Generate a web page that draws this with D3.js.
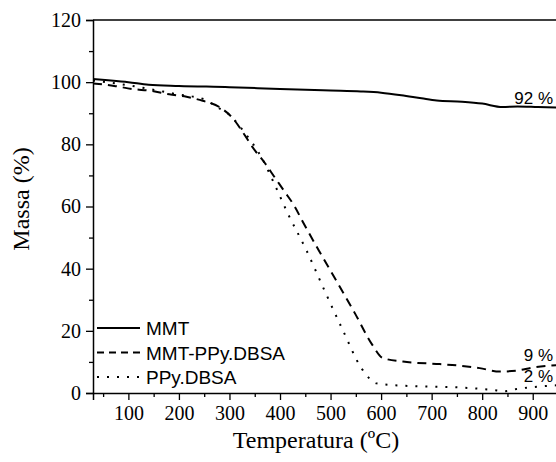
<!DOCTYPE html>
<html lang="en">
<head>
<meta charset="utf-8">
<title>TGA</title>
<script src="https://cdn.jsdelivr.net/npm/d3@7"></script>
<style>
  body { margin: 0; background: #fff; }
  svg { display: block; }
</style>
</head>
<body>
<script>
// temperature (ºC) and mass (%)
var mmtT   = [30, 60, 100, 140, 200, 300, 400, 500, 560, 600, 640, 680, 710, 760, 800, 840, 870, 910, 950];
var mmtM   = [101, 100.6, 100, 99.2, 98.8, 98.4, 97.8, 97.3, 97, 96.6, 95.8, 94.8, 94.1, 93.7, 93.1, 92, 92.2, 92, 91.8];

var compT  = [30, 72, 108, 145, 181, 215, 247, 280, 306, 330, 346, 370, 389, 409, 429, 445, 478, 514, 548, 583, 603, 643, 716, 755, 795, 835, 868, 900, 950];
var compM  = [99.6, 98.8, 97.8, 97.2, 96.1, 95.3, 94, 92, 88.5, 83, 79, 74, 69.5, 64.8, 60, 55.1, 45.5, 35.4, 25.7, 15.4, 11.3, 10.1, 9.3, 8.8, 8, 6.9, 7.2, 8.2, 9];

var ppyT   = [30, 100, 200, 250, 274, 300, 326, 366, 389, 415, 452, 488, 524, 561, 580, 591, 656, 755, 821, 845, 868, 908, 950];
var ppyM   = [100.5, 99, 96, 94.5, 92.1, 89.5, 84.6, 75, 67.2, 57.9, 46, 33, 20.3, 8, 4.2, 3.1, 2.25, 1.8, 1, 0.6, 1.3, 2, 2.5];

var seriesNames = ["MMT", "MMT-PPy.DBSA", "PPy.DBSA"];
var xTicks = [100, 200, 300, 400, 500, 600, 700, 800, 900];
var yTicks = [0, 20, 40, 60, 80, 100, 120];
var endLabels = [{m: 92, text: "92 %", dy: -3}, {m: 9, text: "9 %", dy: -4}, {m: 2, text: "2 %", dy: -5}];

var W = 556, H = 462;
var plotL = 93, plotT = 20, plotB = 393, plotR = 558;

var svg = d3.select("body").append("svg")
  .attr("width", W)
  .attr("height", H);

var x = d3.scaleLinear().domain([30, 950]).range([plotL, plotR]);
var y = d3.scaleLinear().domain([0, 120]).range([plotB, plotT]);

// frame top line
svg.append("line")
  .attr("x1", plotL).attr("x2", plotR)
  .attr("y1", plotT).attr("y2", plotT)
  .attr("stroke", "#000").attr("stroke-width", 1.5);

// minor ticks first
var xMinor = svg.append("g").attr("transform", "translate(0," + plotB + ")")
  .call(d3.axisBottom(x).tickValues([50, 150, 250, 350, 450, 550, 650, 750, 850]).tickSize(4).tickFormat(""));
var yMinor = svg.append("g").attr("transform", "translate(" + plotL + ",0)")
  .call(d3.axisLeft(y).tickValues([10, 30, 50, 70, 90, 110]).tickSize(4).tickFormat(""));

var xAxis = svg.append("g").attr("transform", "translate(0," + plotB + ")")
  .call(d3.axisBottom(x).tickValues(xTicks).tickSize(7).tickPadding(6).tickFormat(d3.format("d")));
var yAxis = svg.append("g").attr("transform", "translate(" + plotL + ",0)")
  .call(d3.axisLeft(y).tickValues(yTicks).tickSize(7).tickPadding(5).tickFormat(d3.format("d")));

svg.selectAll(".domain").attr("stroke-width", 1.5);
svg.selectAll(".tick line").attr("stroke-width", 1.3);
svg.selectAll(".tick text")
  .attr("font-family", "'Liberation Serif', 'Times New Roman', serif")
  .attr("font-size", 20)
  .attr("fill", "#000");
xMinor.select(".domain").remove();
yMinor.select(".domain").remove();

// axis titles
svg.append("text")
  .attr("x", 316).attr("y", 448)
  .attr("text-anchor", "middle")
  .attr("font-family", "'Liberation Serif', 'Times New Roman', serif")
  .attr("font-size", 24)
  .text("Temperatura (ºC)");

svg.append("text")
  .attr("transform", "translate(29,199) rotate(-90)")
  .attr("text-anchor", "middle")
  .attr("font-family", "'Liberation Serif', 'Times New Roman', serif")
  .attr("font-size", 24)
  .text("Massa (%)");

// curves
var line = d3.line()
  .x(function(d){ return x(d[0]); })
  .y(function(d){ return y(d[1]); })
  .curve(d3.curveMonotoneX);

var series = [
  {pts: d3.zip(mmtT, mmtM), dash: null, key: null},
  {pts: d3.zip(compT, compM), dash: "9,6", key: "7,5"},
  {pts: d3.zip(ppyT, ppyM), dash: "2,8", key: "2,8"}
];

svg.append("clipPath").attr("id", "clip")
  .append("rect").attr("x", plotL).attr("y", plotT).attr("width", plotR - plotL).attr("height", plotB - plotT);

svg.append("g").attr("clip-path", "url(#clip)")
  .selectAll("path")
  .data(series)
  .enter().append("path")
  .attr("d", function(d){ return line(d.pts); })
  .attr("fill", "none")
  .attr("stroke", "#000")
  .attr("stroke-width", 2)
  .attr("stroke-dasharray", function(d){ return d.dash; });

// end labels
svg.selectAll(".endlbl")
  .data(endLabels)
  .enter().append("text")
  .attr("class", "endlbl")
  .attr("x", 553)
  .attr("y", function(d){ return y(d.m) + d.dy; })
  .attr("text-anchor", "end")
  .attr("font-family", "'Liberation Sans', Arial, sans-serif")
  .attr("font-size", 17)
  .text(function(d){ return d.text; });

// legend
var legend = svg.append("g");
var rows = legend.selectAll("g")
  .data(seriesNames)
  .enter().append("g")
  .attr("transform", function(d, i){ return "translate(97," + (328 + i * 24.5) + ")"; });
rows.append("line")
  .attr("x1", 0).attr("x2", 43)
  .attr("stroke", "#000").attr("stroke-width", 2)
  .attr("stroke-dasharray", function(d, i){ return series[i].key; });
rows.append("text")
  .attr("x", 49).attr("y", 7)
  .attr("font-family", "'Liberation Sans', Arial, sans-serif")
  .attr("font-size", 19)
  .text(function(d){ return d; });
</script>
</body>
</html>
